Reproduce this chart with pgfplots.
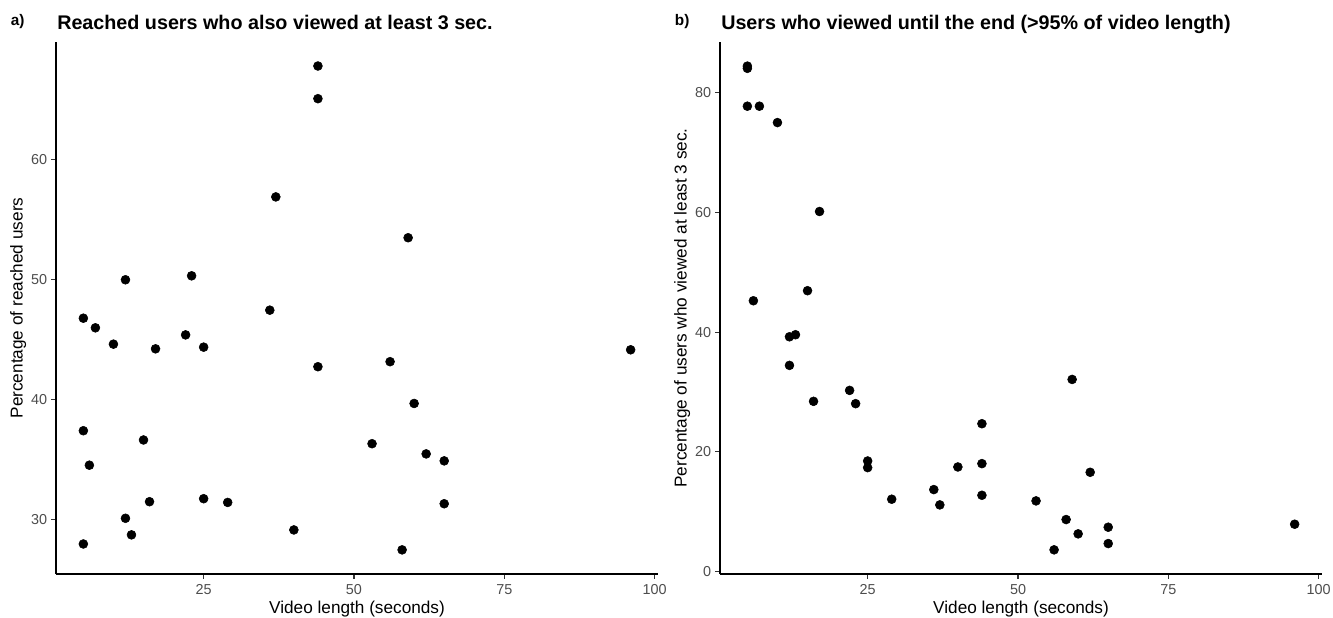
\documentclass[border=0pt]{standalone}
\usepackage{pgfplots}
\pgfplotsset{compat=1.18}
\usepackage{pgfplotstable}
\usepackage{fontspec}
\setmainfont{Liberation Sans}
\definecolor{grey30}{HTML}{4D4D4D}
\definecolor{grey20}{HTML}{333333}

\pgfplotstableread{
x y
5 46.8
5 37.43
5 28.0
6 34.56
7 46.0
10 44.64
12 50.0
12 30.14
13 28.76
15 36.66
16 31.52
17 44.25
22 45.41
23 50.33
25 44.39
25 31.77
29 31.46
36 47.47
37 56.9
40 29.17
44 67.8
44 65.08
44 42.76
53 36.35
56 43.18
58 27.51
59 53.5
60 39.7
62 35.5
65 34.92
65 31.35
96 44.17
}\dataA

\pgfplotstableread{
x y
5 84.47
5 84.1
5 77.77
6 45.25
7 77.77
10 75.03
12 39.23
12 34.45
13 39.57
15 46.93
16 28.44
17 60.17
22 30.27
23 28.05
25 18.47
25 17.36
29 12.08
36 13.69
37 11.13
40 17.47
44 24.7
44 18.03
44 12.74
53 11.8
56 3.62
58 8.68
59 32.1
60 6.29
62 16.58
65 7.4
65 4.67
96 7.9
}\dataB

\pgfplotsset{
  myaxis/.style={
    scale only axis, width=451.5pt, height=399pt,
    axis x line*=bottom, axis y line*=left,
    axis line style={black, line width=0.8pt},
    xmin=0.45, xmax=100.55,
    xtick={25,50,75,100},
    tick align=outside, major tick length=3.5pt,
    tick style={grey20, line width=0.8pt},
    /pgf/number format/assume math mode=true,
    tick label style={font=\fontsize{10.8}{12}\selectfont, text=grey30},
    xticklabel style={inner sep=0pt, anchor=north, yshift=-4pt},
    yticklabel style={inner sep=0pt, anchor=east, xshift=-3pt},
    label style={font=\fontsize{12.9}{15}\selectfont},
    xlabel style={at={(axis description cs:0.5,0)}, anchor=base, yshift=-29.5pt},
    ylabel style={at={(axis description cs:-0.0554,0.5)}, anchor=base},
    xlabel={Video length (seconds)},
  },
  mypts/.style={only marks, mark=*, mark size=3.35pt, black, mark options={fill=black, draw=black}},
}

\begin{document}
\begin{tikzpicture}
\path[use as bounding box] (0,0) rectangle (999.75pt,462.75pt);
\begin{axis}[myaxis, at={(42pt,32.25pt)}, anchor=south west,
  ymin=25.5, ymax=69.8, ytick={30,40,50,60},
  ylabel={Percentage of reached users}]
\addplot[mypts] table[x=x,y=y] {\dataA};
\end{axis}
\begin{axis}[myaxis, at={(540pt,32.25pt)}, anchor=south west,
  ymin=-0.42, ymax=88.5, ytick={0,20,40,60,80},
  ylabel={Percentage of users who viewed at least 3 sec.}]
\addplot[mypts] table[x=x,y=y] {\dataB};
\end{axis}
\node[anchor=base west, inner sep=0pt, font=\bfseries\fontsize{11.5}{13}\selectfont] at (8pt,443.25pt) {a)};
\node[anchor=base west, inner sep=0pt, font=\bfseries\fontsize{14.8}{17}\selectfont] at (42.75pt,440.8pt) {Reached users who also viewed at least 3 sec.};
\node[anchor=base west, inner sep=0pt, font=\bfseries\fontsize{11.5}{13}\selectfont] at (506pt,443.25pt) {b)};
\node[anchor=base west, inner sep=0pt, font=\bfseries\fontsize{14.8}{17}\selectfont] at (540.75pt,440.8pt) {Users who viewed until the end (>95\% of video length)};
\end{tikzpicture}
\end{document}
